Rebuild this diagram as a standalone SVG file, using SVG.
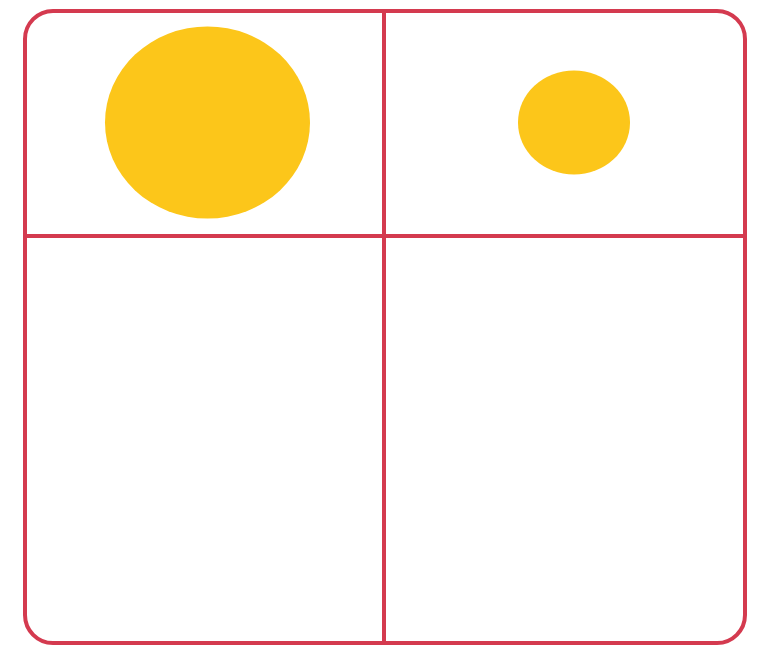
<svg xmlns="http://www.w3.org/2000/svg" width="760" height="651" viewBox="0 0 760 651">
<style>
.line{stroke:#d43a4f;stroke-width:4;fill:none}
.dot{fill:#fcc61a}
</style>
<rect width="760" height="651" fill="#ffffff"/>
<g id="frame">
<rect class="line" x="25" y="11" width="720" height="632" rx="28" ry="28"/>
</g>
<g id="connectors">
<line class="line" x1="384" y1="11" x2="384" y2="643"/>
<line class="line" x1="25" y1="236" x2="745" y2="236"/>
</g>
<g id="big-circle">
<ellipse class="dot" cx="207.5" cy="122.5" rx="102.5" ry="96"/>
</g>
<g id="small-circle">
<ellipse class="dot" cx="574" cy="122.5" rx="56" ry="52"/>
</g>
</svg>
